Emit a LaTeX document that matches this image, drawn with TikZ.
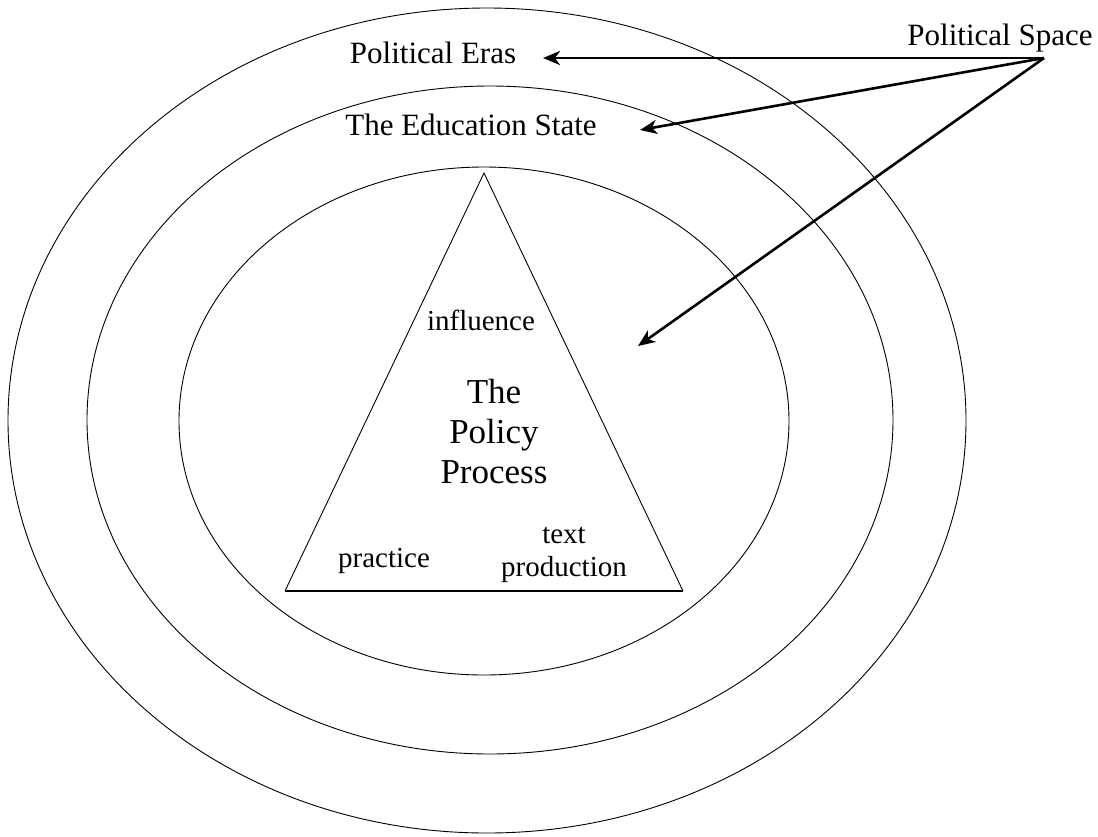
\documentclass[tikz,border=0pt]{standalone}
\usepackage{fontspec}
\setmainfont{Liberation Serif}
\usetikzlibrary{arrows.meta}
\begin{document}
\begin{tikzpicture}[x=1pt,y=-1pt,
  ring/.style={draw=black,line width=0.9pt},
  lbl/.style={inner sep=0pt,font=\fontsize{31}{36}\selectfont},
  small/.style={inner sep=0pt,align=center,font=\fontsize{29}{33}\selectfont},
  title/.style={inner sep=0pt,align=center,font=\fontsize{35}{40}\selectfont},
  pointer/.style={line width=2.6pt,-{Stealth[length=17pt,width=14pt,inset=5pt]}}]
  \fill[white] (0,0) rectangle (1098,836);
  \useasboundingbox (0,0) rectangle (1098,836);

  % three nested ellipses
  \draw[ring] (487,420.5) ellipse [x radius=479pt, y radius=412.5pt];
  \draw[ring] (490,420) ellipse [x radius=403pt, y radius=334pt];
  \draw[ring] (484,421) ellipse [x radius=305pt, y radius=254pt];

  % policy triangle
  \coordinate (apex) at (484,173);
  \coordinate (bl) at (285,591);
  \coordinate (br) at (683,591);
  \draw[line width=0.9pt] (bl) -- (apex) -- (br);
  \draw[line width=1.3pt] (bl) -- (br);

  % labels
  \node[lbl,anchor=base] (eras) at (433,63) {Political Eras};
  \node[lbl,anchor=base] (state) at (471,135) {The Education State};
  \node[lbl,anchor=base] (space) at (1000,45) {Political Space};

  \node[small,anchor=base] (infl) at (481,330) {influence};
  \node[title] (proc) at (494,432) {The\\Policy\\Process};
  \node[small,anchor=base] (prac) at (384,567) {practice};
  \node[small] (textp) at (564,555) {text\\production};

  % arrows from Political Space
  \coordinate (src) at (1044,58);
  \coordinate (erasTip) at (543,58);
  \coordinate (stateTip) at (640,130);
  \coordinate (coreTip) at (638,346);
  \draw[pointer] (src) -- (erasTip);
  \draw[pointer] (src) -- (stateTip);
  \draw[pointer] (src) -- (coreTip);
\end{tikzpicture}
\end{document}
